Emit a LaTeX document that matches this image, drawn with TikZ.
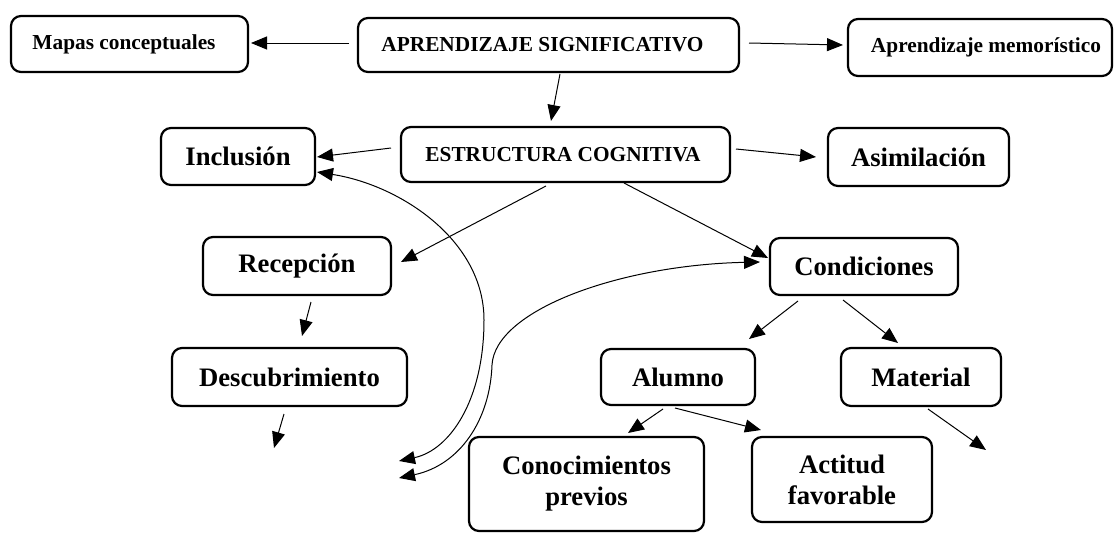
\documentclass[tikz,border=0pt]{standalone}
\usepackage{fontspec}
\setmainfont{Liberation Serif}
\usetikzlibrary{arrows.meta}
\begin{document}
\begin{tikzpicture}[x=1pt,y=-1pt,
  box/.style={draw, line width=2.2pt, rounded corners=10pt, inner sep=0pt, align=center},
  small/.style={font=\fontsize{21.33}{25}\selectfont\bfseries},
  big/.style={font=\fontsize{26.67}{31}\selectfont\bfseries},
  arr/.style={line width=1pt, -{Triangle[length=16pt,width=13pt]}},
  darr/.style={line width=1pt, {Triangle[length=16pt,width=13pt]}-{Triangle[length=16pt,width=13pt]}},
]
\useasboundingbox (0,0) rectangle (1120,533);

% nodes
\node[box, small, minimum width=237pt, minimum height=56pt] (mapas) at (129.5,44) {Mapas conceptuales\hspace*{11pt}};
\node[box, small, minimum width=381pt, minimum height=54pt] (apr) at (548.5,45) {APRENDIZAJE SIGNIFICATIVO\hspace*{12pt}};
\node[box, small, minimum width=264pt, minimum height=57pt] (memo) at (980,47.5) {\hspace*{12pt}Aprendizaje memorístico};
\node[box, big, minimum width=154pt, minimum height=57pt] (incl) at (238,156.5) {Inclusión};
\node[box, small, minimum width=329pt, minimum height=55pt] (estr) at (565.5,154.5) {ESTRUCTURA COGNITIVA\hspace*{5pt}};
\node[box, big, minimum width=181pt, minimum height=58pt] (asim) at (918.5,157) {Asimilación};
\node[box, big, minimum width=188pt, minimum height=58pt] (recep) at (297,266) {Recepción};
\node[box, big, minimum width=188pt, minimum height=57pt] (cond) at (864,266.5) {Condiciones};
\node[box, big, minimum width=235pt, minimum height=58pt] (desc) at (289.5,377) {Descubrimiento};
\node[box, big, minimum width=154pt, minimum height=56pt] (alum) at (678,377) {Alumno};
\node[box, big, minimum width=160pt, minimum height=58pt] (mat) at (921,377) {Material};
\node[box, big, minimum width=235pt, minimum height=94pt] (conoc) at (586.5,484) {Conocimientos\\previos};
\node[box, big, minimum width=180pt, minimum height=85pt] (acti) at (842,479.5) {Actitud\\favorable};

% free ends
\coordinate (d1) at (274,448);
\coordinate (m1) at (986,450);
\coordinate (c1) at (399,461);
\coordinate (c2) at (399,478);
\coordinate (k1) at (484,320);
\coordinate (k2) at (492,365);

% straight connectors
\draw[arr] ([shift={(-199.5,-2)}]apr.center) -- ([shift={(121.5,-1)}]mapas.center);
\draw[arr] ([shift={(200.5,-2)}]apr.center) -- ([shift={(-137,-2.5)}]memo.center);
\draw[arr] ([shift={(11.5,29)}]apr.center) -- ([shift={(-14.5,-33.5)}]estr.center);
\draw[arr] ([shift={(-174.5,-6.5)}]estr.center) -- ([shift={(79,0.5)}]incl.center);
\draw[arr] ([shift={(170.5,-5.5)}]estr.center) -- ([shift={(-102.5,0)}]asim.center);
\draw[arr] ([shift={(-19.5,31.5)}]estr.center) -- ([shift={(104,-4)}]recep.center);
\draw[arr] ([shift={(58.5,28.5)}]estr.center) -- ([shift={(-96,-8.5)}]cond.center);
\draw[arr] ([shift={(14,36)}]recep.center) -- ([shift={(12.5,-41)}]desc.center);
\draw[arr] ([shift={(-5.5,37)}]desc.center) -- (d1);
\draw[arr] ([shift={(-66,34.5)}]cond.center) -- ([shift={(71,-38)}]alum.center);
\draw[arr] ([shift={(-21,33.5)}]cond.center) -- ([shift={(-23,-34)}]mat.center);
\draw[arr] ([shift={(7,32)}]mat.center) -- (m1);
\draw[arr] ([shift={(-15,32)}]alum.center) -- ([shift={(41.5,-51)}]conoc.center);
\draw[arr] ([shift={(-3,31)}]alum.center) -- ([shift={(-81,-49.5)}]acti.center);

% curved connectors
\draw[darr] ([shift={(79,15.5)}]incl.center) .. controls (400,185) and (484,240) .. (k1)
  .. controls (484,400) and (450,450) .. (c1);
\draw[darr] ([shift={(-104,-4.5)}]cond.center) .. controls (620,265) and (495,310) .. (k2)
  .. controls (490,420) and (460,465) .. (c2);
\end{tikzpicture}
\end{document}
